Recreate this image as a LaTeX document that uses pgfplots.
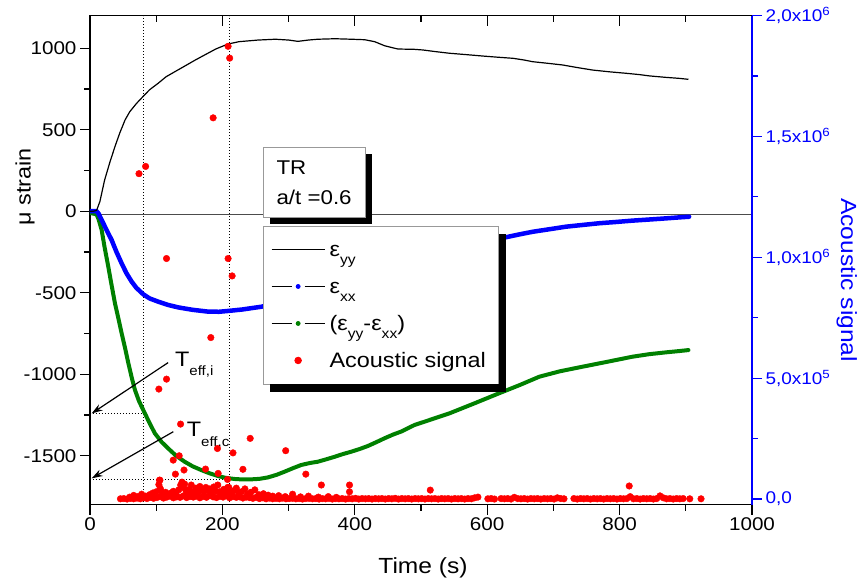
\documentclass[border=0pt]{standalone}
\usepackage{fontspec}
\setmainfont{Liberation Sans}[FakeStretch=1.12]
\usepackage{pgfplots}
\usepackage{pgfplotstable}
\pgfplotsset{compat=1.18}
\usetikzlibrary{shadows,arrows.meta}
\definecolor{ogreen}{RGB}{0,128,0}
\newcommand\fs[1]{\fontsize{#1}{#1}\selectfont}
\newcommand\sub[1]{\raisebox{-0.38em}{\fs{14}#1}}

\pgfplotstableread{
t v
0 0
5 0
10 5
15 60
22 190
30 300
38 400
45 480
53 560
60 610
70 660
80 703
90 745
103 785
115 825
130 860
143 890
158 925
173 958
190 995
208 1025
225 1040
254 1050
280 1055
300 1050
314 1042
330 1050
344 1055
370 1058
395 1055
415 1052
430 1040
445 1015
465 995
490 993
503 989
520 980
543 969
570 960
593 952
615 945
639 938
655 928
669 917
690 908
714 897
735 882
759 866
785 855
810 846
830 838
845 830
870 821
890 815
904 809
}\eyy

\pgfplotstableread{
t v
0 0
5 0
10 0
13 -15
17.6 -54
25 -115
32.7 -177
40 -250
47.8 -320
55 -380
62.9 -432
70 -470
80.5 -510
90 -535
103 -555
118 -575
133 -590
155 -605
178 -616
195 -617
208.6 -612
230 -603
259 -586
294 -553
320 -525
344 -490
370 -455
395 -420
430 -385
467 -349
505 -310
543 -271
580 -220
605 -185
628 -160
649 -142
669 -126
695 -110
719 -95
745 -84
769 -74
795 -66
819 -58
845 -51
870 -44
890 -38
905 -34
}\exx

\pgfplotstableread{
t v
0 -10
10 -20
13 -50
17.6 -115
22 -220
27.6 -340
32 -440
37.7 -565
43 -660
47.8 -749
53 -840
57.8 -930
63 -1020
67.9 -1097
74 -1165
80.5 -1220
90 -1300
98 -1363
108 -1415
118 -1455
130 -1500
143 -1537
155 -1565
168 -1588
180 -1607
193.6 -1625
205 -1636
218.7 -1643
232 -1646
244 -1645
256 -1642
269 -1633
282 -1617
294 -1598
307 -1576
319 -1557
332 -1545
344 -1537
357 -1522
370 -1506
382 -1490
395 -1475
408 -1458
420 -1440
433 -1416
445 -1393
458 -1370
470 -1352
490 -1312
510 -1285
543 -1240
580 -1180
618 -1117
650 -1065
679 -1015
710 -982
744 -954
780 -925
819 -893
845 -877
870 -866
890 -858
904 -852
}\ediff

\pgfplotstableread{
t v
46 1000
51 2000
56 0
61 3000
66 1000
71 4000
76 1000
81 5000
86 2000
91 7000
96 3000
101 6000
106 10000
111 4000
116 8000
121 12000
126 5000
131 9000
136 7000
141 13000
146 6000
151 10000
156 8000
161 12000
166 5000
171 11000
176 7000
181 14000
186 9000
191 6000
196 11000
201 8000
206 13000
211 5000
216 10000
221 7000
226 9000
231 4000
236 8000
241 6000
246 3000
251 7000
256 2000
261 5000
266 1000
271 4000
276 1000
281 3000
286 1000
291 4000
296 1000
301 2000
306 3000
311 1000
316 2000
321 0
326 2000
331 3000
336 1000
341 2000
346 0
351 2000
356 1000
361 3000
366 0
371 2000
376 1000
381 2000
386 0
391 2000
396 1000
401 3000
406 0
411 2000
416 1000
421 2000
426 0
431 2000
436 1000
441 2000
446 0
451 2000
456 1000
461 3000
466 0
471 2000
476 1000
481 2000
486 0
491 2000
496 1000
501 2000
506 0
511 2000
516 1000
521 2000
526 0
531 2000
536 1000
541 2000
546 0
551 2000
556 1000
561 2000
566 0
571 2000
576 1000
581 5000
586 8000
601 1000
606 2000
611 0
621 2000
626 1000
631 2000
636 0
641 7000
646 2000
651 1000
656 2000
661 0
666 2000
671 1000
676 2000
681 0
686 2000
691 1000
696 2000
701 0
706 5000
711 2000
716 1000
731 2000
736 0
741 2000
746 1000
751 2000
756 0
761 2000
766 1000
771 2000
776 0
781 2000
786 1000
791 2000
796 0
801 2000
806 1000
811 2000
816 10000
821 1000
826 2000
831 0
836 2000
841 1000
846 2000
851 0
856 2000
861 13000
866 5000
871 1000
876 2000
881 0
886 2000
891 1000
896 2000
906 1000
923 1000
}\acbase

\pgfplotstableread{
t v
60 8000
66 15000
72 10000
78 20000
84 12000
90 18000
95 25000
100 30000
104 60000
105 78000
106 45000
107 35000
110 22000
114 28000
118 16000
122 25000
126 32000
130 20000
134 38000
137 58000
139 70000
141 48000
143 62000
145 35000
148 26000
150 40000
153 58000
156 30000
160 45000
163 25000
166 52000
169 40000
172 30000
175 48000
178 35000
181 42000
184 28000
187 50000
190 33000
193 58000
196 30000
199 22000
202 40000
205 28000
208 48000
211 30000
214 20000
218 35000
221 45000
225 25000
229 30000
234 42000
238 20000
243 28000
249 38000
255 18000
262 22000
269 16000
276 12000
285 14000
295 10000
306 20000
318 9000
330 12000
345 8000
360 10000
372 7000
392 30000
}\accluster

\pgfplotstableread{
t v
208.6 1873000
211 1824000
186 1577000
84 1376000
74 1346000
115.6 995000
208.6 995000
214.7 923000
182.5 668000
115.6 496000
104 455000
136.8 310000
242 251000
192.5 209000
216 191000
295.6 200000
125.7 161000
134.7 179000
142 120000
129 103000
174.5 124000
193.6 106000
231 123000
326 103000
207.7 81000
349.5 58000
392 58000
105.6 78000
209.7 48000
814.5 54000
514 37000
}\acout

\begin{document}
\begin{tikzpicture}
\pgfplotsset{
  base/.style={scale only axis, width=662bp, height=489bp, xmin=0, xmax=1000,
    xtick={0,200,...,1000}, minor x tick num=1,
    major tick length=10bp, minor tick length=6bp,
    tick style={black, line width=1.2bp},
    ticklabel style={font=\fs{18.5}},
    /pgf/number format/assume math mode=true,
    /pgf/number format/1000 sep={}},
}
% main axis
\begin{axis}[base, ymin=-1800, ymax=1200,
  axis line style={line width=1.6bp},
  ytick={-1500,-1000,...,1000}, minor y tick num=1,
  xtick pos=bottom, ytick pos=left, tick align=outside,
  xlabel={Time (s)}, ylabel={μ strain},
  every axis x label/.style={at={(axis description cs:0.503,0)}, yshift=-63.4bp, anchor=center, font=\fs{22}},
  every axis y label/.style={at={(axis description cs:-0.098,0.65)}, rotate=90, anchor=center, font=\fs{21}},
]
\addplot[gray!60!black, line width=0.8bp, forget plot] coordinates {(0,-20) (1000,-20)};
\addplot[black, line width=0.8bp, dash pattern=on 0.8bp off 2.2bp, forget plot] coordinates {(80.5,-1800) (80.5,1200)};
\addplot[black, line width=0.8bp, dash pattern=on 0.8bp off 2.2bp, forget plot] coordinates {(210.3,-1800) (210.3,1200)};
\addplot[black, line width=0.8bp, dash pattern=on 0.8bp off 2.2bp, forget plot] coordinates {(0,-1241) (80.5,-1241)};
\addplot[black, line width=0.8bp, dash pattern=on 0.8bp off 2.2bp, forget plot] coordinates {(0,-1643) (210.3,-1643)};
\addplot[ogreen, line width=4bp, line join=round, line cap=round, forget plot] table[x=t,y=v] {\ediff};
\addplot[blue, line width=4.5bp, line join=round, line cap=round, forget plot] table[x=t,y=v] {\exx};
\addplot[black, line width=1.2bp, forget plot] table[x=t,y=v] {\eyy};
\draw[line width=1.2bp, -{Stealth[length=11bp,width=7bp]}] (axis cs:118,-929) -- (axis cs:2.5,-1241);
\draw[line width=1.2bp, -{Stealth[length=11bp,width=7bp]}] (axis cs:125.8,-1353) -- (axis cs:2.5,-1639);
\node[anchor=base west, inner sep=0pt, font=\fs{21}] at (axis cs:128.3,-954) {T\raisebox{-9bp}{\fs{13.5}eff,i}};
\node[anchor=base west, inner sep=0pt, font=\fs{21}] at (axis cs:146,-1383) {T\raisebox{-10bp}{\fs{13.5}eff,c}};
\end{axis}
% top ticks inward
\begin{axis}[base, ymin=-1800, ymax=1200,
  axis x line*=top, axis y line=none, axis line style={line width=1.6bp, -},
  tick align=inside, xticklabels={}]
\addplot[draw=none, forget plot] coordinates {(0,0)};
\end{axis}
% right axis
\begin{axis}[base, ymin=-23000, ymax=2000000,
  axis x line=none, axis y line*=right,
  axis line style={blue, line width=1.8bp, -},
  ytick={0,500000,1000000,1500000,2000000}, minor y tick num=1,
  ytick style={blue, line width=1.2bp}, tick align=outside,
  scaled y ticks=false,
  yticklabels={{0,0},{5,0x10\textsuperscript{5}},{1,0x10\textsuperscript{6}},{1,5x10\textsuperscript{6}},{2,0x10\textsuperscript{6}}},
  yticklabel style={blue, font=\fs{17}},
  ylabel={Acoustic signal},
  every axis y label/.style={at={(axis description cs:1.143,0.459)}, rotate=-90, anchor=center, blue, font=\fs{22}},
  legend style={name=L, at={(0.261,0.5706)}, anchor=north west, draw=gray!80, line width=0.8bp, fill=white,
    font=\fs{21}, row sep=10bp, inner xsep=8bp, inner ysep=10bp,
    nodes={inner xsep=4.5bp, inner ysep=0pt, text height=21bp, text depth=6bp}},
  legend cell align=left,
]
\coordinate (SW) at (rel axis cs:0,0);
\coordinate (NE) at (rel axis cs:1,1);
\addlegendimage{legend image code/.code={\draw[black, line width=0.9bp] (0bp,0bp) -- (53bp,0bp);}}
\addlegendimage{legend image code/.code={\draw[black, line width=0.9bp] (0bp,0bp) -- (20bp,0bp) (33bp,0bp) -- (53bp,0bp); \fill[blue] (26.5bp,0bp) circle (2bp);}}
\addlegendimage{legend image code/.code={\draw[black, line width=0.9bp] (0bp,0bp) -- (20bp,0bp) (33bp,0bp) -- (53bp,0bp); \fill[ogreen] (26.5bp,0bp) circle (2bp);}}
\addplot[only marks, mark=*, mark size=3.3bp, red, mark options={draw=red, fill=red}, forget plot] table[x=t,y=v] {\acbase};
\addplot[only marks, mark=*, mark size=3.3bp, red, mark options={draw=red, fill=red}, forget plot] table[x=t,y=v] {\accluster};
\addplot[only marks, mark=*, mark size=3.3bp, red, mark options={draw=red, fill=red},
  legend image code/.code={\path[draw=none,fill=none] (0bp,0bp) -- (53bp,0bp); \fill[red] (26.5bp,0bp) circle (3.3bp);}] table[x=t,y=v] {\acout};
\legend{ε\sub{yy}, ε\sub{xx}, (ε\sub{yy}-ε\sub{xx}), Acoustic signal}
\node[draw=gray!80, line width=0.8bp, fill=white,
  drop shadow={shadow xshift=6.7bp, shadow yshift=-6.7bp, fill=black, opacity=1},
  anchor=north west, minimum width=102bp, minimum height=70bp, align=left,
  font=\fontsize{20}{30}\selectfont, inner sep=0pt] at (rel axis cs:0.2609,0.7307) {TR\\a/t =0.6};
\end{axis}
\fill[black] ([yshift=-8bp]L.north east) rectangle ([xshift=7.5bp,yshift=-8bp]L.south east);
\fill[black] ([xshift=7.5bp]L.south west) rectangle ([xshift=7.5bp,yshift=-8bp]L.south east);
\pgfresetboundingbox
\path[use as bounding box] ([shift={(-90bp,-78.4bp)}]SW) rectangle ([shift={(107bp,15.6bp)}]NE);
\end{tikzpicture}
\end{document}
